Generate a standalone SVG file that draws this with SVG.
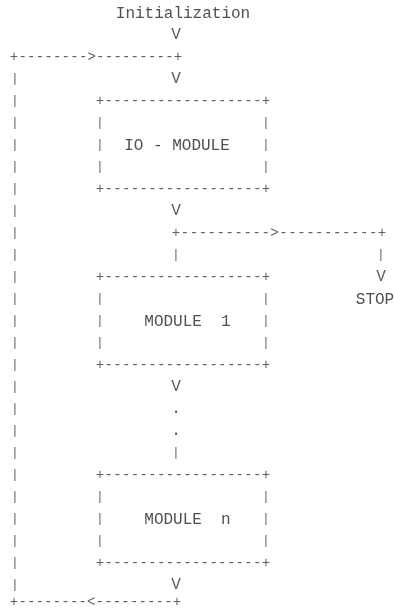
<svg xmlns="http://www.w3.org/2000/svg" xmlns:xlink="http://www.w3.org/1999/xlink" width="394" height="611" viewBox="0 0 394 611">
<style>
text{font-family:"Liberation Mono","DejaVu Sans Mono",monospace;font-size:16px;fill:#505050;}
.ln{fill:#5f5f5f;text-anchor:middle;}
.hl{fill:#5f5f5f;text-anchor:middle;font-size:14px;}
.vb{fill:#6a6a6a;text-anchor:middle;font-size:13px;}
.lb{text-anchor:middle;}
</style>
<defs>
<filter id="flat" x="0" y="0" width="1" height="1"><feOffset dx="0" dy="0"/></filter>
<g id="box">
<text class="hl" x="100 108.7 117.5 126.2 134.9 143.7 152.4 161.2 169.9 178.6 187.4 196.1 204.8 213.6 222.3 231.1 239.8 248.5 257.3 266" y="4.5">+------------------+</text>
<text class="vb" x="100 266 100 266 100 266" y="26 26 48 48 70 70">||||||</text>
<text class="hl" x="100 108.7 117.5 126.2 134.9 143.7 152.4 161.2 169.9 178.6 187.4 196.1 204.8 213.6 222.3 231.1 239.8 248.5 257.3 266" y="92.5">+------------------+</text>
</g>
</defs>
<rect width="394" height="611" fill="#fff"/>
<g filter="url(#flat)">
<g id="connectors">
<text class="ln" x="176" y="39">V</text>
<text class="hl" x="14 22.6 31.3 39.9 48.5 57.2 65.8 74.4 83.1 91.7 100.3 109 117.6 126.2 134.8 143.5 152.1 160.7 169.4 178" y="60.5">+-------->---------+</text>
<text class="ln" x="176" y="83">V</text>
<text class="ln" x="176" y="215">V</text>
<text class="hl" x="176 185 193.9 202.9 211.8 220.8 229.7 238.7 247.7 256.6 265.6 274.5 283.5 292.4 301.4 310.4 319.3 328.3 337.2 346.2 355.1 364.1 373.1 382" y="236.5">+---------->-----------+</text>
<text class="vb" x="176 381" y="258">||</text>
<text class="ln" x="381" y="281">V</text>
<text class="ln" x="176" y="391">V</text>
<text class="ln" x="176 176" y="413 435">..</text>
<text class="vb" x="176" y="456">|</text>
<text class="ln" x="176" y="589">V</text>
<text class="vb" x="15 15 15 15 15 15 15 15 15 15 15 15 15 15 15 15 15 15 15 15 15 15 15 15" y="82 104 126 148 170 192 214 236 258 280 302 324 346 368 390 412 434 456 478 500 522 544 566 588">||||||||||||||||||||||||</text>
<text class="hl" x="14 22.6 31.2 39.7 48.3 56.9 65.5 74.1 82.6 91.2 99.8 108.4 117 125.5 134.1 142.7 151.3 159.8 168.4 177" y="605.5">+--------&lt;---------+</text>
</g>
<g id="node-init">
<text class="lb" x="183" y="18">Initialization</text>
</g>
<g id="node-io">
<use xlink:href="#box" y="100"/>
<text class="lb" x="177" y="150">IO - MODULE</text>
</g>
<g id="node-module1">
<use xlink:href="#box" y="276"/>
<text class="lb" x="187.5" y="326" xml:space="preserve">MODULE  1</text>
</g>
<g id="node-modulen">
<use xlink:href="#box" y="474"/>
<text class="lb" x="187.5" y="524" xml:space="preserve">MODULE  n</text>
</g>
<g id="node-stop">
<text class="lb" x="375" y="304">STOP</text>
</g>
</g>
</svg>
